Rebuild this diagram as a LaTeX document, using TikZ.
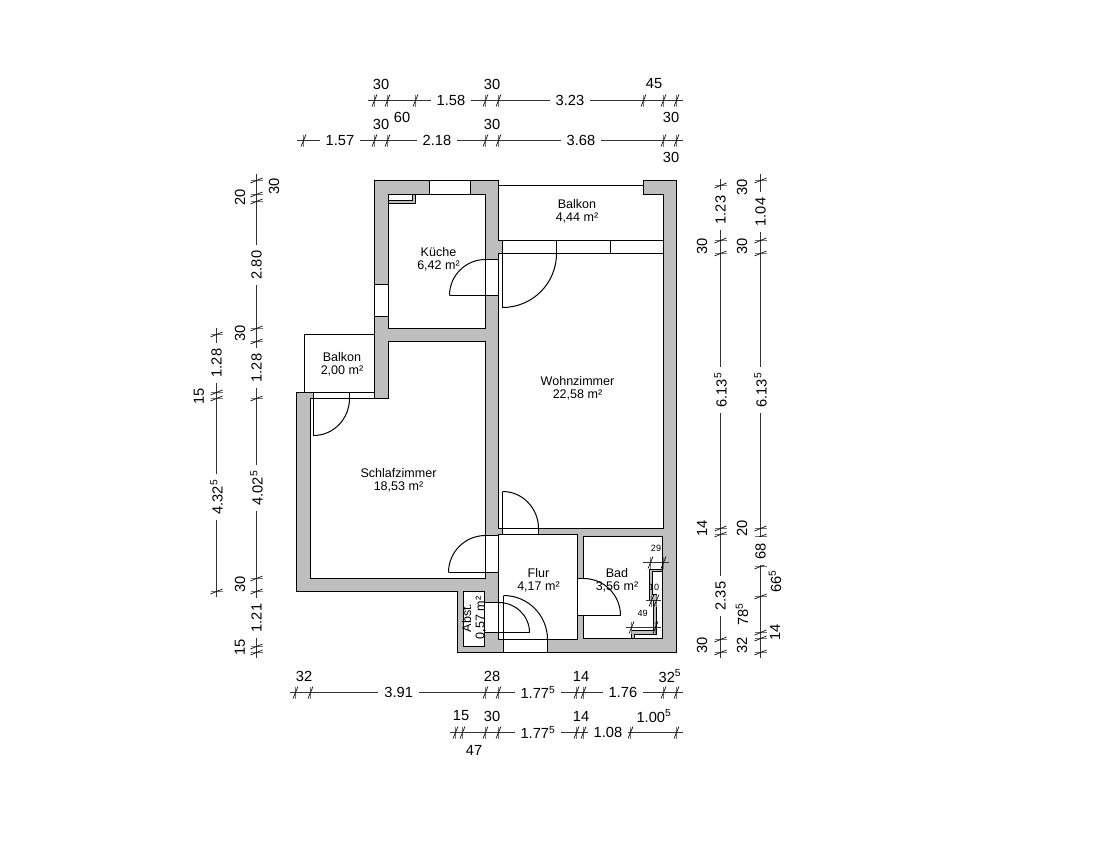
\documentclass[tikz,border=0pt]{standalone}
\usepackage{fontspec}
\setmainfont{Liberation Sans}
\definecolor{wall}{HTML}{BEBEBE}
\newcommand{\fv}{\textsuperscript{5}}
\tikzset{
    plan/.style={black,line width=0.75pt},
    opening/.style={plan,fill=white},
    fixture/.style={black,line width=0.5pt},
    dimline/.style={black!80,line width=0.6pt},
    dimtick/.style={black,line width=0.5pt},
    dimperp/.style={black!55,line width=0.4pt},
    roomlabel/.style={font=\fontsize{9.4}{10}\selectfont,align=center,inner sep=0pt},
    dimtext/.style={font=\fontsize{11}{12}\selectfont,fill=white,inner xsep=4.5pt,inner ysep=1pt},
    dimnote/.style={font=\fontsize{11}{12}\selectfont,inner sep=0pt},
    smallnote/.style={font=\fontsize{6.8}{8}\selectfont,inner sep=0pt}
}
\begin{document}
\begin{tikzpicture}[x=0.75pt,y=-0.75pt]
    \useasboundingbox (0,0) rectangle (1098,849);

    % Outer walls
    \draw [plan,fill=wall] (374.5,180.5) -- (498.5,180.5) -- (498.5,240.5) -- (663.5,240.5) -- (663.5,194.5)
        -- (643.5,194.5) -- (643.5,180.5) -- (676.5,180.5) -- (676.5,652.5) -- (457.5,652.5) -- (457.5,591.5)
        -- (296.5,591.5) -- (296.5,392.5) -- (374.5,392.5) -- cycle;

    % Balconies
    \draw [plan] (498.5,185.5) to (643.5,185.5);
    \draw [plan] (374.5,334.5) to (304.5,334.5) to (304.5,392.5);

    % Rooms
    \draw [opening] (388.5,194.5) rectangle (485.5,328.5);
    \draw [opening] (388.5,341.5) -- (485.5,341.5) -- (485.5,578.5) -- (310.5,578.5) -- (310.5,398.5) -- (388.5,398.5) -- cycle;
    \draw [opening] (498.5,253.5) rectangle (663.5,528.5);
    \draw [opening] (498.5,534.5) rectangle (577.5,639.5);
    \draw [opening] (583.5,536.5) rectangle (662.5,638.5);
    \draw [opening] (463.5,591.5) rectangle (484.5,646.5);

    % Chimney in the kitchen
    \draw [plan,fill=wall] (388.5,194.5) -- (415.5,194.5) -- (415.5,203.5) -- (388.5,203.5) -- cycle;
    \draw [opening] (388.5,194.5) rectangle (412.5,200.5);

    % Windows
    \draw [opening] (429.5,180.5) rectangle (470.5,194.5);
    \draw [opening] (374.5,284.5) rectangle (388.5,316.5);
    \draw [opening] (502.5,240.5) rectangle (663.5,253.5);
    \draw [plan] (556.5,240.5) to (556.5,253.5);
    \draw [plan] (610.5,240.5) to (610.5,253.5);
    \draw [opening] (313.5,392.5) rectangle (374.5,398.5);
    \draw [plan] (349.5,392.5) to (349.5,398.5);

    % Doors
    \draw [opening] (485.5,259.5) rectangle (498.5,295.5);
    \draw [plan] (449.5,295.5) to (485.5,295.5);
    \draw [plan] (449.5,295.5) to [out=90,in=180] (485.5,259.5);

    \draw [plan] (502.5,253.5) to (502.5,307.5);
    \draw [plan] (502.5,307.5) to [out=0,in=270] (556.5,253.5);

    \draw [plan] (313.5,398.5) to (313.5,435.5);
    \draw [plan] (313.5,435.5) to [out=0,in=270] (349.5,398.5);

    \draw [opening] (502.5,528.5) rectangle (538.5,534.5);
    \draw [plan] (502.5,491.5) to (502.5,528.5);
    \draw [plan] (502.5,491.5) to [out=0,in=90] (538.5,528.5);

    \draw [opening] (485.5,535.5) rectangle (498.5,572.5);
    \draw [plan] (448.5,572.5) to (485.5,572.5);
    \draw [plan] (448.5,572.5) to [out=90,in=180] (485.5,535.5);

    \draw [opening] (484.5,602.5) rectangle (498.5,632.5);
    \draw [plan] (498.5,632.5) to (529.5,632.5);
    \draw [plan] (498.5,602.5) to [out=0,in=90] (529.5,632.5);

    \draw [opening] (503.5,639.5) rectangle (547.5,652.5);
    \draw [plan] (503.5,595.5) to (503.5,639.5);
    \draw [plan] (503.5,595.5) to [out=0,in=90] (547.5,639.5);

    \fill [white] (577,579) rectangle (584,615);
    \draw [plan] (577.5,578.5) to (583.5,578.5);
    \draw [plan] (577.5,578.5) to (577.5,615.5);
    \draw [plan] (577.5,615.5) to (620.5,615.5);
    \draw [plan] (583.5,578.5) to [out=0,in=90] (620.5,615.5);

    % Shaft in the bath
    \draw [fixture,fill=wall] (649.5,569.5) -- (662.5,569.5) -- (662.5,571.5) -- (652.5,571.5) -- (652.5,594.5)
        -- (656.5,594.5) -- (656.5,634.5) -- (634.5,634.5) -- (634.5,638.5) -- (631.5,638.5) -- (631.5,630.5) -- (653.5,630.5)
        -- (653.5,600.5) -- (649.5,600.5) -- cycle;

    % Room labels
    \node [roomlabel] (kueche) at (438.5,259) {Küche\\6,42 m²};
    \node [roomlabel] (balkonA) at (577,211) {Balkon\\4,44 m²};
    \node [roomlabel] (balkonB) at (342,364) {Balkon\\2,00 m²};
    \node [roomlabel] (wohnen) at (577.5,388) {Wohnzimmer\\22,58 m²};
    \node [roomlabel] (schlafen) at (398.5,480) {Schlafzimmer\\18,53 m²};
    \node [roomlabel] (flur) at (538.5,580) {Flur\\4,17 m²};
    \node [roomlabel] (bad) at (617,580) {Bad\\3,56 m²};
    \node [roomlabel,rotate=90] (abst) at (474,618) {Abst.\\0,57 m²};

    % Dimension lines, horizontal
    \foreach \yy/\xa/\xb in {100.5/368/683,140.5/297/683,692.5/290/683,732.5/450/683,562.5/643/669,600.5/646/661,627.5/626/661}
        \draw [dimline] (\xa,\yy) to (\xb,\yy);
    \foreach \yy/\list in {100.5/{374.5,387.5,415.5,485.5,498.5,643.5,663.5,676.5},140.5/{303.5,374.5,387.5,485.5,498.5,663.5,676.5},
        692.5/{295.5,310.5,485.5,498.5,576.5,583.5,663.5,676.5},732.5/{455.5,462.5,485.5,498.5,576.5,583.5,630.5,676.5},
        562.5/{650.5,663.5},600.5/{651.5,656.5},627.5/{631.5,655.5}}
        \foreach \xx in \list {
            \draw [dimperp] (\xx,\yy-5.5) to (\xx,\yy+6);
            \draw [dimtick] (\xx-2.5,\yy+6) to (\xx+2.5,\yy-6);
        }

    % Dimension lines, vertical
    \foreach \xx/\ya/\yb in {256.5/174/658,216.5/328/597,720.5/179/658,760.5/174/658}
        \draw [dimline] (\xx,\ya) to (\xx,\yb);
    \foreach \xx/\list in {256.5/{180.5,194.5,201.5,328.5,341.5,398.5,578.5,591.5,646.5,652.5},216.5/{334.5,392.5,398.5,591.5},
        720.5/{185.5,240.5,253.5,528.5,534.5,639.5,652.5},760.5/{180.5,194.5,240.5,253.5,528.5,536.5,566.5,596.5,632.5,638.5,652.5}}
        \foreach \yy in \list {
            \draw [dimperp] (\xx-6,\yy) to (\xx+6,\yy);
            \draw [dimtick] (\xx-6,\yy+2.5) to (\xx+6,\yy-2.5);
        }

    % Dimension values on the lines
    \foreach \xx/\yy/\txt [count=\i] in {451/100.5/1.58,570/100.5/3.23,340/140.5/1.57,437/140.5/2.18,581/140.5/3.68,
        398.7/692.5/3.91,538/692.5/1.77\fv,623/692.5/1.76,538/732.5/1.77\fv,608/732.5/1.08}
        \node [dimtext] (hval\i) at (\xx,\yy) {\txt};
    \foreach \xx/\yy/\txt [count=\i] in {256.5/265/2.80,256.5/368/1.28,256.5/488/4.02\fv,256.5/618/1.21,216.5/363/1.28,216.5/497/4.32\fv,
        720.5/210/1.23,720.5/390/6.13\fv,720.5/596/2.35,760.5/212/1.04,760.5/390/6.13\fv,760.5/551/68}
        \node [dimtext,rotate=90] (vval\i) at (\xx,\yy) {\txt};

    % Dimension values beside the lines
    \foreach \xx/\yy/\txt [count=\i] in {381/84/30,402/117/60,492/84/30,654/84/45,671/117/30,381/124/30,492/124/30,671/157/30,
        304/676/32,492/676/28,581/676/14,670/676/32\fv,461/716/15,492/716/30,474/750/47,581/716/14,654/716/1.00\fv}
        \node [dimnote] (hnote\i) at (\xx,\yy) {\txt};
    \foreach \xx/\yy/\txt [count=\i] in {240/197/20,274/186/30,240/333/30,199/396/15,240/584/30,240/647/15,
        702/246/30,702/528/14,702/645/30,742/187/30,742/246/30,742/528/20,775/581/66\fv,742/614/78\fv,742/645/32,775/632/14}
        \node [dimnote,rotate=90] (vnote\i) at (\xx,\yy) {\txt};
    \node [smallnote] (shaftA) at (656,548.5) {29};
    \node [smallnote] (shaftB) at (654,587) {10};
    \node [smallnote] (shaftC) at (642.7,613) {49};
\end{tikzpicture}
\end{document}
